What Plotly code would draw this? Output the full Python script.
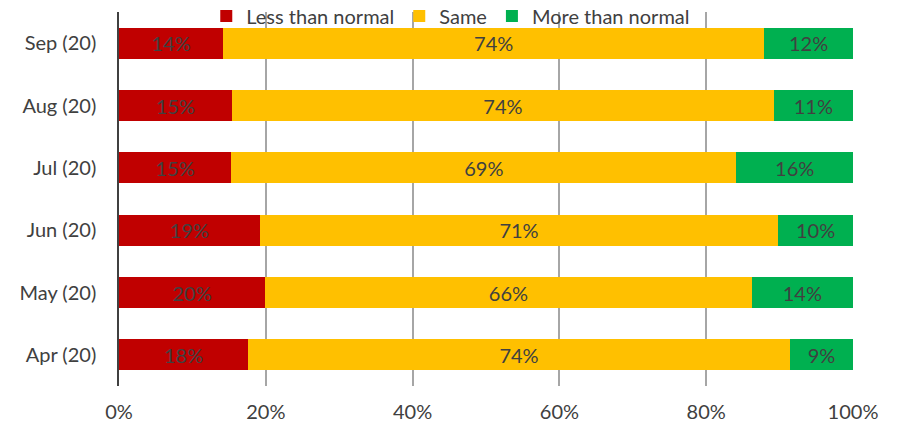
import plotly.graph_objects as go

categories = ["Apr (20)", "May (20)", "Jun (20)", "Jul (20)", "Aug (20)", "Sep (20)"]
less_than_normal = [17.6, 19.9, 19.2, 15.3, 15.4, 14.2]
same = [73.8, 66.3, 70.6, 68.8, 73.8, 73.7]
more_than_normal = [8.6, 13.8, 10.2, 15.9, 10.8, 12.1]
tick_vals = [0, 20, 40, 60, 80, 100]
tick_text = ["0%", "20%", "40%", "60%", "80%", "100%"]

series = [
    ("Less than normal", less_than_normal, "#C00000"),
    ("Same", same, "#FFC000"),
    ("More than normal", more_than_normal, "#00B050"),
]

FONT = "Lato, Open Sans, sans-serif"
TXT = "#404040"

fig = go.Figure()
for name, vals, color in series:
    fig.add_trace(go.Bar(
        y=categories, x=vals, name=name, orientation="h",
        marker=dict(color=color, line=dict(width=0)),
        text=[f"{round(v):d}%" for v in vals], texttemplate="%{text}",
        textposition="inside", insidetextanchor="middle", textangle=0,
        insidetextfont=dict(family=FONT, size=20, color="#404040"),
        width=0.5,
    ))

plot_h = 428 - 42
fig.update_layout(
    barmode="stack",
    width=902, height=428,
    margin=dict(l=119, r=49, t=0, b=42, autoexpand=False),
    paper_bgcolor="white", plot_bgcolor="white",
    font=dict(family=FONT, size=20, color=TXT),
    showlegend=True,
    legend=dict(orientation="h", x=0.452, xanchor="center",
                y=(plot_h - 16) / plot_h, yanchor="middle",
                bgcolor="rgba(0,0,0,0)", font=dict(family=FONT, size=20, color=TXT),
                itemwidth=30, traceorder="normal"),
    xaxis=dict(range=[0, 100], tickvals=tick_vals, ticktext=tick_text,
               showgrid=True, gridcolor="#A6A6A6", gridwidth=1.5,
               zeroline=False, showline=False, ticks="", ticklabelstandoff=12,
               tickfont=dict(family=FONT, size=20, color=TXT), automargin=False),
    yaxis=dict(categoryorder="array", categoryarray=categories,
               domain=[0, (plot_h - 12) / plot_h],
               range=[-0.5, 5.5], showgrid=False, zeroline=False,
               showline=True, linecolor="#404040", linewidth=1.5,
               ticks="", ticklabelstandoff=17, automargin=False,
               tickfont=dict(family=FONT, size=20, color=TXT)),
)

fig.write_html("out.html", config={"displayModeBar": False},
               post_script="document.body.style.margin='0';document.body.style.overflow='hidden';")
